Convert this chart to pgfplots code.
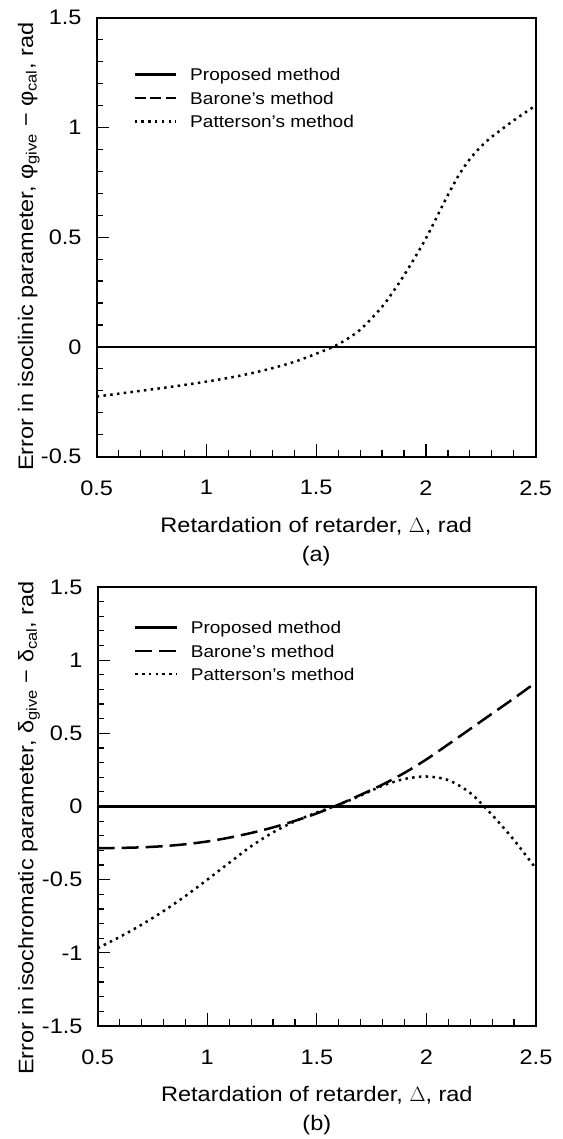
\documentclass[border=0pt]{standalone}
\usepackage{pgfplots}
\pgfplotsset{compat=1.18}
\usepackage{fontspec}
\setmainfont{Liberation Sans}[FakeStretch=1.12]

\pgfplotstableread{
x y
0.5 -0.226
0.6 -0.213
0.7 -0.200
0.8 -0.187
0.9 -0.173
1.0 -0.158
1.1 -0.141
1.2 -0.121
1.3 -0.097
1.4 -0.068
1.5 -0.031
1.6 0.012
1.7 0.078
1.8 0.183
1.85 0.251
1.9 0.326
1.95 0.408
2.0 0.495
2.05 0.593
2.1 0.692
2.15 0.783
2.2 0.856
2.25 0.912
2.3 0.957
2.4 1.032
2.5 1.100
}\pattA

\pgfplotstableread{
x y
0.5 -0.285
0.6 -0.283
0.7 -0.279
0.8 -0.271
0.9 -0.258
1.0 -0.239
1.1 -0.213
1.2 -0.181
1.3 -0.143
1.4 -0.098
1.5 -0.047
1.6 0.013
1.7 0.080
1.8 0.150
1.9 0.230
2.0 0.322
2.1 0.425
2.2 0.530
2.3 0.635
2.4 0.740
2.5 0.848
}\baroneB

\pgfplotstableread{
x y
0.5 -0.968
0.6 -0.892
0.7 -0.808
0.8 -0.715
0.9 -0.612
1.0 -0.500
1.1 -0.385
1.2 -0.272
1.3 -0.177
1.4 -0.101
1.5 -0.041
1.6 0.012
1.7 0.075
1.8 0.142
1.9 0.188
2.0 0.205
2.1 0.180
2.2 0.092
2.3 -0.058
2.4 -0.230
2.5 -0.425
}\pattB

\pgfplotstableread{
x y
0.5 0
2.5 0
}\zero

\pgfplotsset{
  common/.style={
    scale only axis,
    width=439pt, height=439pt,
    xmin=0.5, xmax=2.5,
    xtick={0.5,1,1.5,2,2.5},
    minor x tick num=4, minor y tick num=4,
    tick pos=left, tick align=inside,
    major tick length=12.5pt, minor tick length=6.5pt,
    every tick/.style={black, line width=1.2pt},
    axis line style={line width=2.2pt},
    /pgf/number format/assume math mode=true,
    ticklabel style={font=\fontsize{21}{25}\selectfont},
    xticklabel style={anchor=north, inner sep=0pt, yshift=-23.5pt},
    yticklabel style={anchor=east, inner sep=0pt, xshift=-15pt},
    every axis x label/.style={at={(axis description cs:0.5,0)}, anchor=north,
      inner sep=0pt, yshift=-60.5pt, align=center,
      font=\fontsize{21}{28.7}\selectfont},
    legend cell align=left,
    legend style={anchor=north west, draw=none, fill=none, inner sep=0pt,
      outer sep=0pt, row sep=10.8pt, column sep=0pt,
      font=\fontsize{17}{20}\selectfont,
      nodes={inner sep=0pt, text height=12.5pt, text depth=0pt}},
    legend image code/.code={\draw[#1] (0pt,0pt) -- (41.7pt,0pt); \path (54.4pt,0pt);},
  },
  solidline/.style={black, line width=2.4pt},
  dotline/.style={black, line width=2.5pt, line cap=butt, dash pattern=on 2.5pt off 4.3pt},
}

\begin{document}
\begin{tikzpicture}
\useasboundingbox (0pt,0pt) rectangle (562pt,1139pt);

\begin{axis}[common,
  at={(96.7pt,682.3pt)}, anchor=south west,
  ymin=-0.5, ymax=1.5,
  ytick={-0.5,0,0.5,1,1.5},
  every axis y label/.style={at={(axis description cs:-0.145,0.478)}, rotate=90,
    anchor=base, inner sep=0pt, font=\fontsize{21}{25}\selectfont},
  xlabel={Retardation of retarder, $\Delta$, rad\\(a)},
  ylabel={Error in isoclinic parameter, φ\textsubscript{give} − φ\textsubscript{cal}, rad},
  legend style={at={(axis description cs:0.0834,0.8844)}},
]
\addplot[solidline] table[x=x,y=y] {\zero};
\addlegendentry{Proposed method}
\addplot[black, line width=2.4pt, dash pattern=on 11pt off 4.5pt] table[x=x,y=y] {\zero};
\addlegendentry{Barone's method}
\addplot[dotline, smooth] table[x=x,y=y] {\pattA};
\addlegendentry{Patterson's method}
\addplot[solidline, forget plot] table[x=x,y=y] {\zero};
\end{axis}

\begin{axis}[common,
  at={(97.7pt,113pt)}, anchor=south west,
  width=438.3pt,
  ymin=-1.5, ymax=1.5,
  ytick={-1.5,-1,-0.5,0,0.5,1,1.5},
  every axis y label/.style={at={(axis description cs:-0.147,0.451)}, rotate=90,
    anchor=base, inner sep=0pt, font=\fontsize{21}{25}\selectfont},
  xlabel={Retardation of retarder, $\Delta$, rad\\(b)},
  ylabel={Error in isochromatic parameter, δ\textsubscript{give} − δ\textsubscript{cal}, rad},
  legend style={at={(axis description cs:0.0827,0.922)}},
]
\addplot[solidline] table[x=x,y=y] {\zero};
\addlegendentry{Proposed method}
\addplot[black, line width=2.5pt, dash pattern=on 17pt off 7pt, smooth] table[x=x,y=y] {\baroneB};
\addlegendentry{Barone's method}
\addplot[dotline, smooth] table[x=x,y=y] {\pattB};
\addlegendentry{Patterson's method}
\end{axis}
\end{tikzpicture}
\end{document}
